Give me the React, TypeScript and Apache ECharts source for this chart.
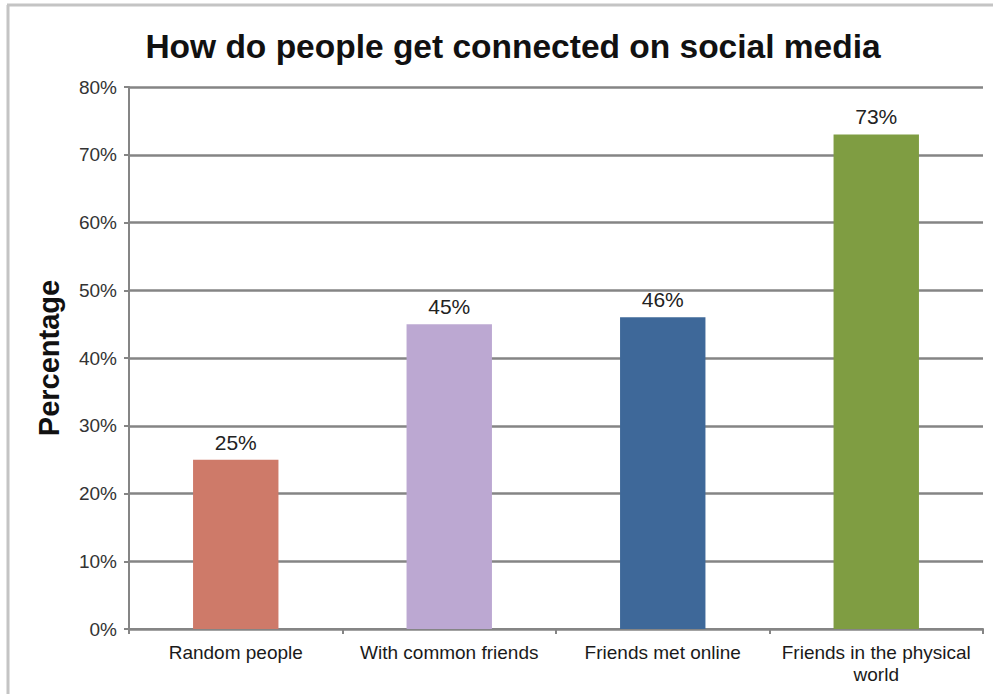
import React, { useEffect, useRef } from "react";
import * as echarts from "echarts";

const categories = [
  "Random people",
  "With common friends",
  "Friends met online",
  "Friends in the physical\nworld",
];
const values = [25, 45, 46, 73];
const barColors = ["#CE7A69", "#BCA8D2", "#3E6899", "#7F9D42"];
const yTicks = [0, 10, 20, 30, 40, 50, 60, 70, 80];

const FONT = "Liberation Sans, Arial, Helvetica, sans-serif";

export default function App() {
  const ref = useRef<HTMLDivElement>(null);
  useEffect(() => {
    document.body.style.margin = "0";
    const chart = echarts.init(ref.current!, null, { renderer: "svg" });
    chart.setOption({
      animation: false,
      backgroundColor: "#ffffff",
      title: {
        text: "How do people get connected on social media",
        left: 508,
        textAlign: "center",
        top: 24,
        textStyle: {
          fontFamily: FONT,
          fontSize: 33.5,
          fontWeight: "bold",
          color: "#111",
        },
      },
      graphic: [
        { type: "line", shape: { x1: 8, y1: 5, x2: 8, y2: 694 }, style: { stroke: "#c4c4c4", lineWidth: 3 } },
        { type: "line", shape: { x1: 7, y1: 5, x2: 993, y2: 5 }, style: { stroke: "#c4c4c4", lineWidth: 3 } },
      ],
      grid: { left: 129, right: 10, top: 87, bottom: 65 },
      xAxis: {
        type: "category",
        data: categories,
        axisLine: { lineStyle: { color: "#858585", width: 2 } },
        axisTick: { show: true, length: 5, lineStyle: { color: "#858585", width: 2 } },
        axisLabel: {
          interval: 0,
          hideOverlap: false,
          color: "#1a1a1a",
          fontSize: 19,
          fontFamily: FONT,
          margin: 12,
          lineHeight: 22,
        },
      },
      yAxis: {
        type: "value",
        min: yTicks[0],
        max: yTicks[yTicks.length - 1],
        interval: 10,
        name: "Percentage",
        nameLocation: "middle",
        nameGap: 66,
        nameTextStyle: {
          fontFamily: FONT,
          fontSize: 29,
          fontWeight: "bold",
          color: "#111",
        },
        axisLine: { show: true, lineStyle: { color: "#858585", width: 2 } },
        axisTick: { show: true, length: 5, lineStyle: { color: "#858585", width: 2 } },
        axisLabel: {
          formatter: "{value}%",
          color: "#333",
          fontSize: 19,
          fontFamily: FONT,
          margin: 12,
        },
        splitLine: { lineStyle: { color: "#858585", width: 2.5 } },
      },
      series: [
        {
          type: "bar",
          data: values.map((v, i) => ({ value: v, itemStyle: { color: barColors[i] } })),
          barWidth: "40%",
          label: {
            show: true,
            position: "top",
            formatter: "{c}%",
            color: "#222",
            fontSize: 21,
            fontFamily: FONT,
            distance: 7,
          },
        },
      ],
    });
    return () => chart.dispose();
  }, []);
  return <div ref={ref} style={{ width: 993, height: 694 }} />;
}
